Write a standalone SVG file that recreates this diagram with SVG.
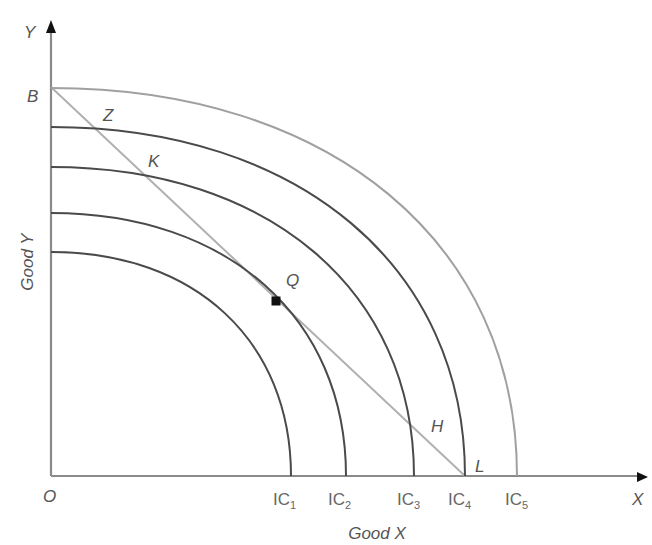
<svg xmlns="http://www.w3.org/2000/svg" width="652" height="545" viewBox="0 0 652 545">
<style>
.ic{fill:none;stroke:#4a4a4a;stroke-width:2}
.ic5{fill:none;stroke:#a0a0a0;stroke-width:2}
.ax{fill:none;stroke:#8a8a8a;stroke-width:2.2}
.bl{fill:none;stroke:#b0b0b0;stroke-width:2}
.lb{font-family:"Liberation Sans",Arial,sans-serif;font-style:italic;font-size:17px;fill:#555}
.ict{font-family:"Liberation Sans",Arial,sans-serif;font-size:17px;fill:#666}
.sub{font-size:11px}
</style>
<rect width="652" height="545" fill="#fff"/>
<g id="connectors">
<path id="y-axis" class="ax" d="M51,476 V30"/>
<path id="x-axis" class="ax" d="M51,476 H640"/>
<polygon points="51,20 46,33 56,33" fill="#111"/>
<polygon points="648,477 637,472 637,482" fill="#111"/>
<path id="budget-line" class="bl" d="M52,88 L465,476"/>
</g>
<g id="IC1"><path class="ic" d="M51,252 C195,252 291,341 291,476"/></g>
<g id="IC2"><path class="ic" d="M51,213 C228,213 346,318 346,476"/></g>
<g id="IC3"><path class="ic" d="M51,167 C269,167 414,291 414,476"/></g>
<g id="IC4"><path class="ic" d="M51,127 C299,127 465,267 465,476"/></g>
<g id="IC5"><path class="ic5" d="M51,88 C331,88 517,243 517,476"/></g>
<g id="Q"><rect x="271.5" y="296.5" width="9" height="9" fill="#111"/></g>
<g id="labels">
<text class="lb" x="24" y="38">Y</text>
<text class="lb" x="27" y="102">B</text>
<text class="lb" x="103" y="121">Z</text>
<text class="lb" x="148" y="167">K</text>
<text class="lb" x="286" y="286">Q</text>
<text class="lb" x="431" y="432">H</text>
<text class="lb" x="475" y="472">L</text>
<text class="lb" x="43" y="502">O</text>
<text class="lb" x="632" y="505">X</text>
<text class="ict" x="273" y="505">IC<tspan class="sub" dy="4">1</tspan></text>
<text class="ict" x="328" y="505">IC<tspan class="sub" dy="4">2</tspan></text>
<text class="ict" x="397" y="505">IC<tspan class="sub" dy="4">3</tspan></text>
<text class="ict" x="448" y="505">IC<tspan class="sub" dy="4">4</tspan></text>
<text class="ict" x="505" y="505">IC<tspan class="sub" dy="4">5</tspan></text>
<text class="lb" x="377" y="539" text-anchor="middle">Good X</text>
<text class="lb" transform="translate(33,262) rotate(-90)" text-anchor="middle">Good Y</text>
</g>
</svg>
